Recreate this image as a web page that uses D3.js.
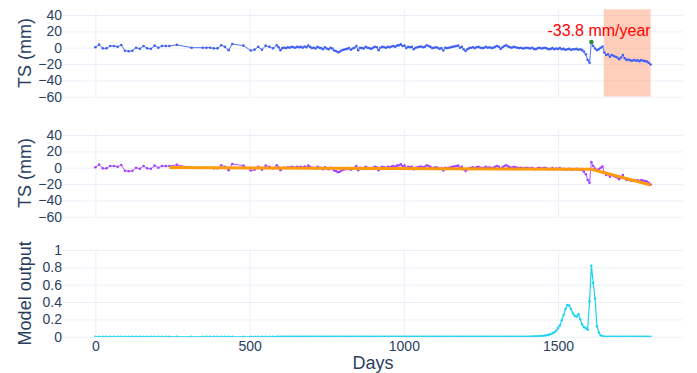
<!DOCTYPE html>
<html>
<head>
<meta charset="utf-8">
<script src="https://cdn.jsdelivr.net/npm/d3@7"></script>
<style>
html,body{margin:0;padding:0;background:#fff;}
svg{display:block;font-family:"Liberation Sans",Arial,sans-serif;}
</style>
</head>
<body>
<svg id="chart" width="697" height="373"></svg>
<script>
// ---------- DATA ----------
const days = [
  0,12,24,36,48,60,72,84,96,108,120,132,144,156,168,180,192,204,216,228,240,
  264,312,348,360,372,384,396,408,420,432,444,480,504,516,528,540,552,564,576,588,
  594,600,606,612,618,624,630,636,642,648,
  654,660,666,672,678,684,690,696,702,708,
  714,720,726,732,738,744,750,756,762,768,
  774,780,786,792,798,804,810,816,822,828,
  834,840,846,852,858,864,870,876,882,888,
  894,900,906,912,918,924,930,936,942,948,
  954,960,966,972,978,984,990,996,1002,1008,
  1014,1020,1026,1032,1038,1044,1050,1056,1062,1068,
  1074,1080,1086,1092,1098,1104,1110,1116,1122,1128,
  1134,1140,1146,1152,1158,1164,1170,1176,1182,1188,
  1194,1200,1206,1212,1218,1224,1230,1236,1242,1248,
  1254,1260,1266,1272,1278,1284,1290,1296,1302,1308,
  1314,1320,1326,1332,1338,1344,1350,1356,1362,1368,
  1374,1380,1386,1392,1398,1404,1410,1416,1422,1428,
  1434,1440,1446,1452,1458,1464,1470,1476,1482,1488,
  1494,1500,1506,1512,1518,1524,1530,1536,1542,1548,
  1554,1560,1566,1572,1578,1584,1590,1596,1602,1608,
  1614,1620,1626,1632,1638,1644,1650,1656,1662,1668,
  1674,1680,1686,1692,1698,1704,1710,1716,1722,1728,
  1734,1740,1746,1752,1758,1764,1770,1776,1782,1788,
  1794,1800
];
const tsValues = [
  0.5,3.7,-0.8,-0.8,2,2,1,3.3,-3.7,-4.3,-3.7,0,-1.4,2,-0.8,-1.4,2.5,0,2,2,2,
  3.5,0,0,0,0,-0.8,-0.8,3,1,-3,4.5,2.5,-3.5,-2.4,1,-2.5,2.5,1,-0.8,3,
  0.5,-3,-0.5,0,-0.5,0.5,0,1,0.5,0,
  1,0.5,1,0,1.5,0.5,2.5,1,-0.5,0,
  -1,1,0,-0.5,-2,0.5,-1,-2,0,-1,
  -3.5,-4,-5.5,-5,-3.5,-2.5,-2,-1.5,-0.5,-2.5,
  -1,0,2,-3,0,-0.5,-1,1,0,-0.5,
  -1.5,0,1,0.5,-3,0,1,0.5,0,1,
  0.5,1.5,2,1,2.5,3,4,2,2.5,-0.5,
  1,0.5,1,-2,0,0.5,1,1.5,0.5,1,
  3,2,1,-0.5,0,0.5,0,-1.5,-0.5,-3.5,
  0,-0.5,0,0.5,1,1.5,2,2.5,0,1,
  -2,-4,-2,-0.5,0,0.5,-0.5,0.5,1,0,
  -0.5,0,1,0,0.5,-0.5,0,1,2,1,
  -1.5,0.5,2,3,1.5,0.5,0,1,0.5,0,
  -0.5,0,-1,-0.5,0,-0.5,-1,0,-1.5,-2,
  -0.5,0,-1,-0.5,0,-1,-2,-1.5,-0.5,-2,
  -1,-1.5,-0.5,-2,-1.5,-2.5,-2,-1.5,-2.5,-2,
  -2,-1.5,-2.5,-2,-3,-5,-8,-15,-18.5,7,
  2,-1,-3,-2,0,1.5,-6,-9,-8,-11,
  -9,-10,-11,-12,-14,-12,-9,-13,-15,-14.5,
  -15.5,-16,-15,-16,-15.5,-16.5,-15,-16,-16.5,-17,
  -18.5,-20.5
];
const modelOutput = [
  0,0,0,0,0,0,0,0,0,0,0,0,0,0,0,0,0,0,0,0,0,
  0,0,0,0,0,0,0,0,0,0,0,0,0,0,0,0,0,0,0,0,
  0,0,0,0,0,0,0,0,0,0,
  0,0,0,0,0,0,0,0,0,0,
  0,0,0,0,0,0,0,0,0,0,
  0,0,0,0,0,0,0,0,0,0,
  0,0,0,0,0,0,0,0,0,0,
  0,0,0,0,0,0,0,0,0,0,
  0,0,0,0,0,0,0,0,0,0,
  0,0,0,0,0,0,0,0,0,0,
  0,0,0,0,0,0,0,0,0,0,
  0,0,0,0,0,0,0,0,0,0,
  0,0,0,0,0,0,0,0,0,0,
  0,0,0,0,0,0,0,0,0,0,
  0,0,0,0,0,0,0,0,0,0,
  0,0,0,0,0,0,0.002,0.002,0.003,0.004,
  0.005,0.006,0.008,0.01,0.013,0.017,0.022,0.03,0.04,0.05,
  0.07,0.1,0.13,0.19,0.25,0.32,0.365,0.36,0.32,0.27,
  0.24,0.23,0.26,0.2,0.14,0.11,0.1,0.08,0.41,0.82,
  0.62,0.44,0.12,0.05,0.015,0.005,0.002,0,0,0,
  0,0,0,0,0,0,0,0,0,0,
  0,0,0,0,0,0,0,0,0,0,
  0,0
];
// piecewise-linear fit (orange)
const fitDays = [240, 1608, 1800];
const fitValues = [0.2, -2, -21.2];
// detection point (green) and shaded window
const detectDay = [1608];
const detectValue = [7];
const shadeDays = [1648, 1800];
const velocityLabel = "-33.8 mm/year";

const xTicks = [0, 500, 1000, 1500];
const xTickLabels = ["0", "500", "1000", "1500"];
const tsTicks = [40, 20, 0, -20, -40, -60];
const tsTickLabels = ["40", "20", "0", "\u221220", "\u221240", "\u221260"];
const modelTicks = [0, 0.2, 0.4, 0.6, 0.8, 1];
const modelTickLabels = ["0", "0.2", "0.4", "0.6", "0.8", "1"];

// ---------- LAYOUT ----------
const svg = d3.select("#chart");
const L = 63, R = 683;
const TXT = "#2a3f5f", GRID = "#ebf0f8";
const x = d3.scaleLinear().domain([-105, 1905]).range([L, R]);
const panels = [
  {id:"p1", y: d3.scaleLinear().domain([-60, 47]).range([96.7, 9.3]), ticks: tsTicks, labels: tsTickLabels, title: "TS (mm)"},
  {id:"p2", y: d3.scaleLinear().domain([-60, 47]).range([216.7, 129.3]), ticks: tsTicks, labels: tsTickLabels, title: "TS (mm)"},
  {id:"p3", y: d3.scaleLinear().domain([0, 1]).range([336.7, 250]), ticks: modelTicks, labels: modelTickLabels, title: "Model output"}
];
const pts = days.map((d, i) => ({d, v: tsValues[i], m: modelOutput[i]}));

panels.forEach(p => {
  const [yb, yt] = p.y.range();
  svg.append("clipPath").attr("id", "clip-" + p.id)
    .append("rect").attr("x", L).attr("y", yt - 1).attr("width", R - L).attr("height", yb - yt + 1);

  const gy = svg.append("g").attr("transform", `translate(${L},0)`)
    .call(d3.axisLeft(p.y).tickValues(p.ticks).tickSize(-(R - L)).tickFormat(""));
  gy.select(".domain").remove();
  gy.selectAll("line").attr("stroke", GRID).attr("stroke-width", 1);
  const gx = svg.append("g").attr("transform", `translate(0,${yb})`)
    .call(d3.axisBottom(x).tickValues(xTicks).tickSize(-(yb - yt)).tickFormat(""));
  gx.select(".domain").remove();
  gx.selectAll("line").attr("stroke", GRID).attr("stroke-width", 1);

  const ya = svg.append("g").attr("transform", `translate(${L + 1},0)`)
    .call(d3.axisLeft(p.y).tickValues(p.ticks).tickSize(0).tickPadding(2)
      .tickFormat((d, i) => p.labels[i]));
  ya.select(".domain").remove();
  ya.selectAll("text").attr("fill", TXT).style("font-size", "14px")
    .style("font-family", '"Liberation Sans",Arial,sans-serif');

  svg.append("text")
    .attr("transform", `translate(25,${(yb + yt) / 2}) rotate(-90)`)
    .attr("text-anchor", "middle").attr("dy", "0.35em")
    .attr("fill", TXT).style("font-size", "18px").text(p.title);
});

// ---------- PANEL 1 ----------
const p1 = panels[0];
const g1 = svg.append("g").attr("clip-path", "url(#clip-p1)");
g1.append("rect")
  .attr("x", x(shadeDays[0])).attr("width", x(shadeDays[1]) - x(shadeDays[0]))
  .attr("y", p1.y.range()[1]).attr("height", p1.y.range()[0] - p1.y.range()[1])
  .attr("fill", "#ffa07a").attr("fill-opacity", 0.5);
const line1 = d3.line().x(d => x(d.d)).y(d => p1.y(d.v));
g1.append("path").datum(pts).attr("d", line1)
  .attr("fill", "none").attr("stroke", "#4161f5").attr("stroke-width", 0.9);
g1.selectAll("circle.ts").data(pts).join("circle")
  .attr("cx", d => x(d.d)).attr("cy", d => p1.y(d.v)).attr("r", 1.3).attr("fill", "#4161f5");
g1.selectAll("circle.det").data(detectDay).join("circle")
  .attr("cx", d => x(d)).attr("cy", (d, i) => p1.y(detectValue[i])).attr("r", 2.3).attr("fill", "#2e8b3a");
svg.append("text").attr("x", x(shadeDays[1])).attr("y", 36).attr("text-anchor", "end")
  .attr("fill", "#ff0000").style("font-size", "16px").text(velocityLabel);

// ---------- PANEL 2 ----------
const p2 = panels[1];
const g2 = svg.append("g").attr("clip-path", "url(#clip-p2)");
const line2 = d3.line().x(d => x(d.d)).y(d => p2.y(d.v));
g2.append("path").datum(pts).attr("d", line2)
  .attr("fill", "none").attr("stroke", "#a544ff").attr("stroke-width", 0.9);
g2.selectAll("circle").data(pts).join("circle")
  .attr("cx", d => x(d.d)).attr("cy", d => p2.y(d.v)).attr("r", 1.3).attr("fill", "#a544ff");
const fitPts = fitDays.map((d, i) => ({d, v: fitValues[i]}));
g2.append("path").datum(fitPts).attr("d", line2)
  .attr("fill", "none").attr("stroke", "#ff9a0a").attr("stroke-width", 3);

// ---------- PANEL 3 ----------
const p3 = panels[2];
const g3 = svg.append("g").attr("clip-path", "url(#clip-p3)");
const line3 = d3.line().x(d => x(d.d)).y(d => p3.y(d.m));
g3.append("path").datum(pts).attr("d", line3)
  .attr("fill", "none").attr("stroke", "#19d3f3").attr("stroke-width", 1.2);
g3.selectAll("circle").data(pts).join("circle")
  .attr("cx", d => x(d.d)).attr("cy", d => p3.y(d.m)).attr("r", 1.2).attr("fill", "#19d3f3");

const xa = svg.append("g").attr("transform", `translate(0,${p3.y.range()[0]})`)
  .call(d3.axisBottom(x).tickValues(xTicks).tickSize(0).tickPadding(4)
    .tickFormat((d, i) => xTickLabels[i]));
xa.select(".domain").remove();
xa.selectAll("text").attr("fill", TXT).style("font-size", "14px")
  .style("font-family", '"Liberation Sans",Arial,sans-serif');
svg.append("text").attr("x", (L + R) / 2).attr("y", 369).attr("text-anchor", "middle")
  .attr("fill", TXT).style("font-size", "18px").text("Days");
</script>
</body>
</html>
